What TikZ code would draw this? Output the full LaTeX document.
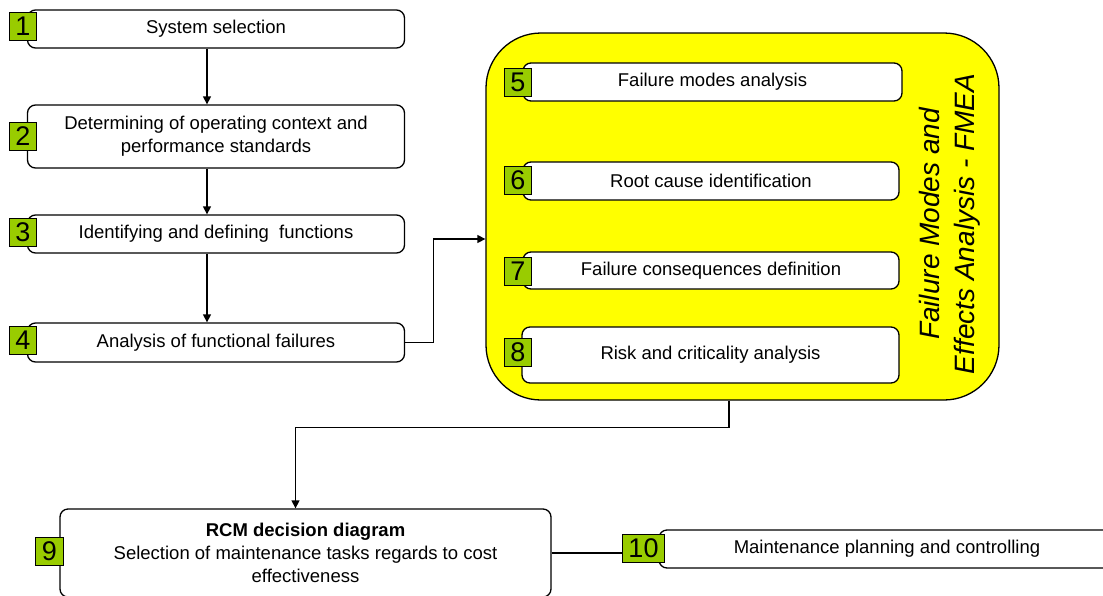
\documentclass[tikz,border=0pt]{standalone}
\usepackage{fontspec}
\setmainfont{Liberation Sans}
\usetikzlibrary{arrows.meta}
\definecolor{tagGreen}{RGB}{153,204,0}
\definecolor{fmeaYellow}{RGB}{255,255,0}
\tikzset{
	stepbox/.style n args={2}{
		draw, rectangle, rounded corners=8pt, fill=white,
		minimum width=#1, minimum height=#2,
		align=center, line width=1.3pt,
		font=\fontsize{18.5}{23}\selectfont
	},
	numtag/.style={
		draw, fill=tagGreen, line width=1pt,
		inner xsep=6pt, inner ysep=0pt,
		minimum width=27pt, minimum height=28pt,
		font=\fontsize{27}{27}\selectfont
	},
	fmeabox/.style={
		draw, fill=fmeaYellow, rounded corners=55pt, line width=1.3pt,
		minimum width=513pt, minimum height=367pt
	},
	link/.style={line width=1.3pt, -{Triangle[length=8pt,width=8pt]}}
}

\begin{document}
\begin{tikzpicture}[x=1pt, y=1pt, yscale=-1]
\useasboundingbox (0,0) rectangle (1103,595);
\clip (0,0) rectangle (1103,595);
\node[fmeabox] (fmea) at (742.5, 216.5) {};
\node[rotate=90, align=center, font=\fontsize{28}{35}\selectfont\itshape] (title) at (949.5, 224) {Failure Modes and\\Effects Analysis - FMEA};
\node[stepbox={377pt}{38pt}] (b1) at (216, 29) {System selection};
\node[stepbox={377pt}{63pt}] (b2) at (216, 136.5) {Determining of operating context and\\performance standards};
\node[stepbox={377pt}{38pt}] (b3) at (216, 234) {Identifying and defining\ \ functions};
\node[stepbox={377pt}{39pt}] (b4) at (216, 342.5) {Analysis of functional failures};
\node[stepbox={379pt}{38pt}] (b5) at (712.5, 82) {Failure modes analysis};
\node[stepbox={376pt}{38pt}] (b6) at (711, 181) {Root cause identification};
\node[stepbox={376pt}{37pt}] (b7) at (711, 270.5) {Failure consequences definition};
\node[stepbox={377pt}{56pt}] (b8) at (710.5, 355) {Risk and criticality analysis};
\node[stepbox={491pt}{88pt}] (b9) at (305.5, 553) {\textbf{RCM decision diagram}\\Selection of maintenance tasks regards to cost\\effectiveness};
\node[stepbox={456pt}{38pt}] (b10) at (887, 549) {Maintenance planning and controlling};
\node[numtag] (t1) at (23, 26.5) {1};
\node[numtag] (t2) at (23, 136) {2};
\node[numtag] (t3) at (23, 232) {3};
\node[numtag] (t4) at (23, 340) {4};
\node[numtag] (t5) at (518, 82.5) {5};
\node[numtag] (t6) at (518, 180.5) {6};
\node[numtag] (t7) at (518, 271) {7};
\node[numtag] (t8) at (518, 352) {8};
\node[numtag] (t9) at (49.5, 551) {9};
\node[numtag] (t10) at (643.5, 548.5) {10};
\draw[link] ([xshift=-9pt]b1.south) -- ([xshift=-9pt]b2.north);
\draw[link] ([xshift=-9pt]b2.south) -- ([xshift=-9pt]b3.north);
\draw[link] ([xshift=-9pt]b3.south) -- ([xshift=-9pt]b4.north);
\draw[link] (b4.east) -- ++(28,0) |- ([yshift=22.5pt]fmea.west);
\draw[link] ([xshift=-13.5pt]fmea.south) -- ++(0,27) -| ([xshift=-10pt]b9.north);
\draw[line width=1.3pt] (b9.east) -- (t10.west |- b9.east);
\end{tikzpicture}
\end{document}
